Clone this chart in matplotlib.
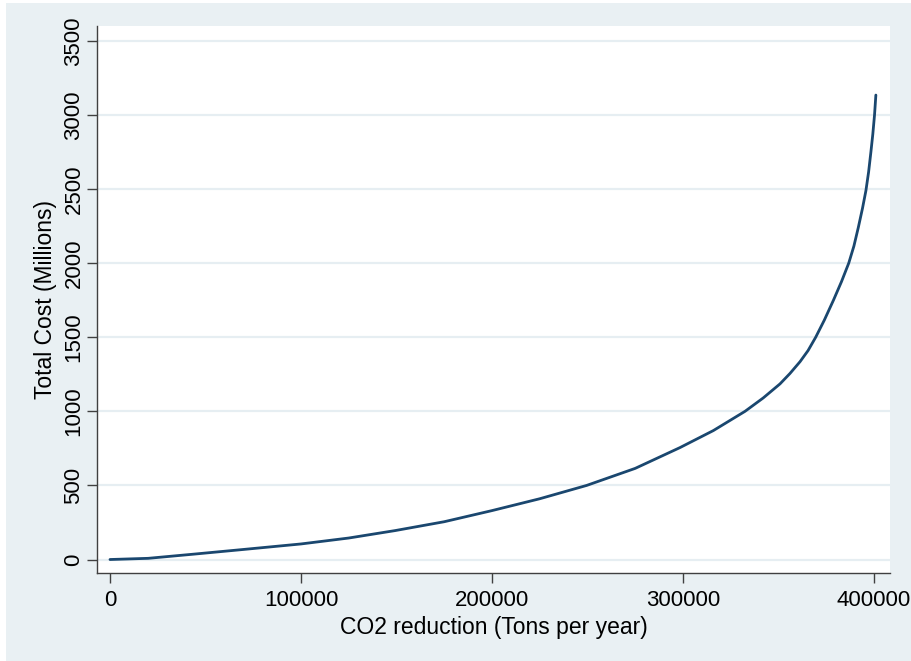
import matplotlib.pyplot as plt
from matplotlib.patches import Rectangle

# CO2 reduction (tons per year) vs total cost (millions)
co2_reduction = [0, 20000, 44500, 70000, 100000, 125000, 149200, 175000, 200000,
                 225000, 249600, 275000, 298400, 315900, 332500, 342000, 350800,
                 356000, 361300, 365500, 369500, 374000, 378800, 383000, 386800,
                 389500, 391800, 394000, 395800, 397200, 398400, 399400, 400300,
                 401000]
total_cost = [0, 8, 37, 68, 105, 145, 195, 255, 330,
              410, 500, 615, 755, 870, 1000, 1090, 1185,
              1255, 1335, 1410, 1500, 1615, 1750, 1875, 2000,
              2115, 2240, 2370, 2490, 2615, 2750, 2870, 3000,
              3134]

x_ticks = [0, 100000, 200000, 300000, 400000]
y_ticks = [0, 500, 1000, 1500, 2000, 2500, 3000, 3500]

bg_color = "#e9f0f3"
grid_color = "#e6eef2"
line_color = "#1a476f"
axis_color = "#404040"

plt.rcParams['font.family'] = ['Liberation Sans', 'DejaVu Sans']

fig = plt.figure(figsize=(9.12, 6.61), dpi=100, facecolor="white")
# light bluish graph region (Stata s2color look)
fig.patches.append(Rectangle((6 / 912, 0), 1, (661 - 3) / 661,
                             transform=fig.transFigure, facecolor=bg_color,
                             edgecolor="none", zorder=-1))

ax = fig.add_axes([97 / 912, 88 / 661, 793 / 912, 547 / 661])
ax.set_facecolor("white")

ax.plot(co2_reduction, total_cost, color=line_color, linewidth=2.0,
        solid_capstyle="round", solid_joinstyle="round", zorder=3)

ax.set_xlim(-6800, 408400)
ax.set_ylim(-91, 3600)

ax.set_xticks(x_ticks)
ax.set_xticklabels([str(t) for t in x_ticks], fontsize=16)
ax.set_yticks(y_ticks)
ax.set_yticklabels([str(t) for t in y_ticks], fontsize=16, rotation=90, va="center",
                   family=['Liberation Sans Narrow', 'Liberation Sans'])

ax.yaxis.grid(True, color=grid_color, linewidth=1.6)
ax.set_axisbelow(True)

for side in ["top", "right"]:
    ax.spines[side].set_visible(False)
for side in ["left", "bottom"]:
    ax.spines[side].set_color(axis_color)
    ax.spines[side].set_linewidth(1.0)

ax.tick_params(axis="both", direction="out", length=7.5, width=1.0,
               color=axis_color, labelcolor="black")
ax.tick_params(axis="x", pad=5)
ax.tick_params(axis="y", pad=1.5)

ax.set_xlabel("CO2 reduction (Tons per year)", fontsize=16.5, labelpad=3)
ax.set_ylabel("Total Cost (Millions)", fontsize=16.5)
ax.yaxis.set_label_coords(-0.050, 0.5)

fig.savefig("out.png", dpi=100, facecolor=fig.get_facecolor())
